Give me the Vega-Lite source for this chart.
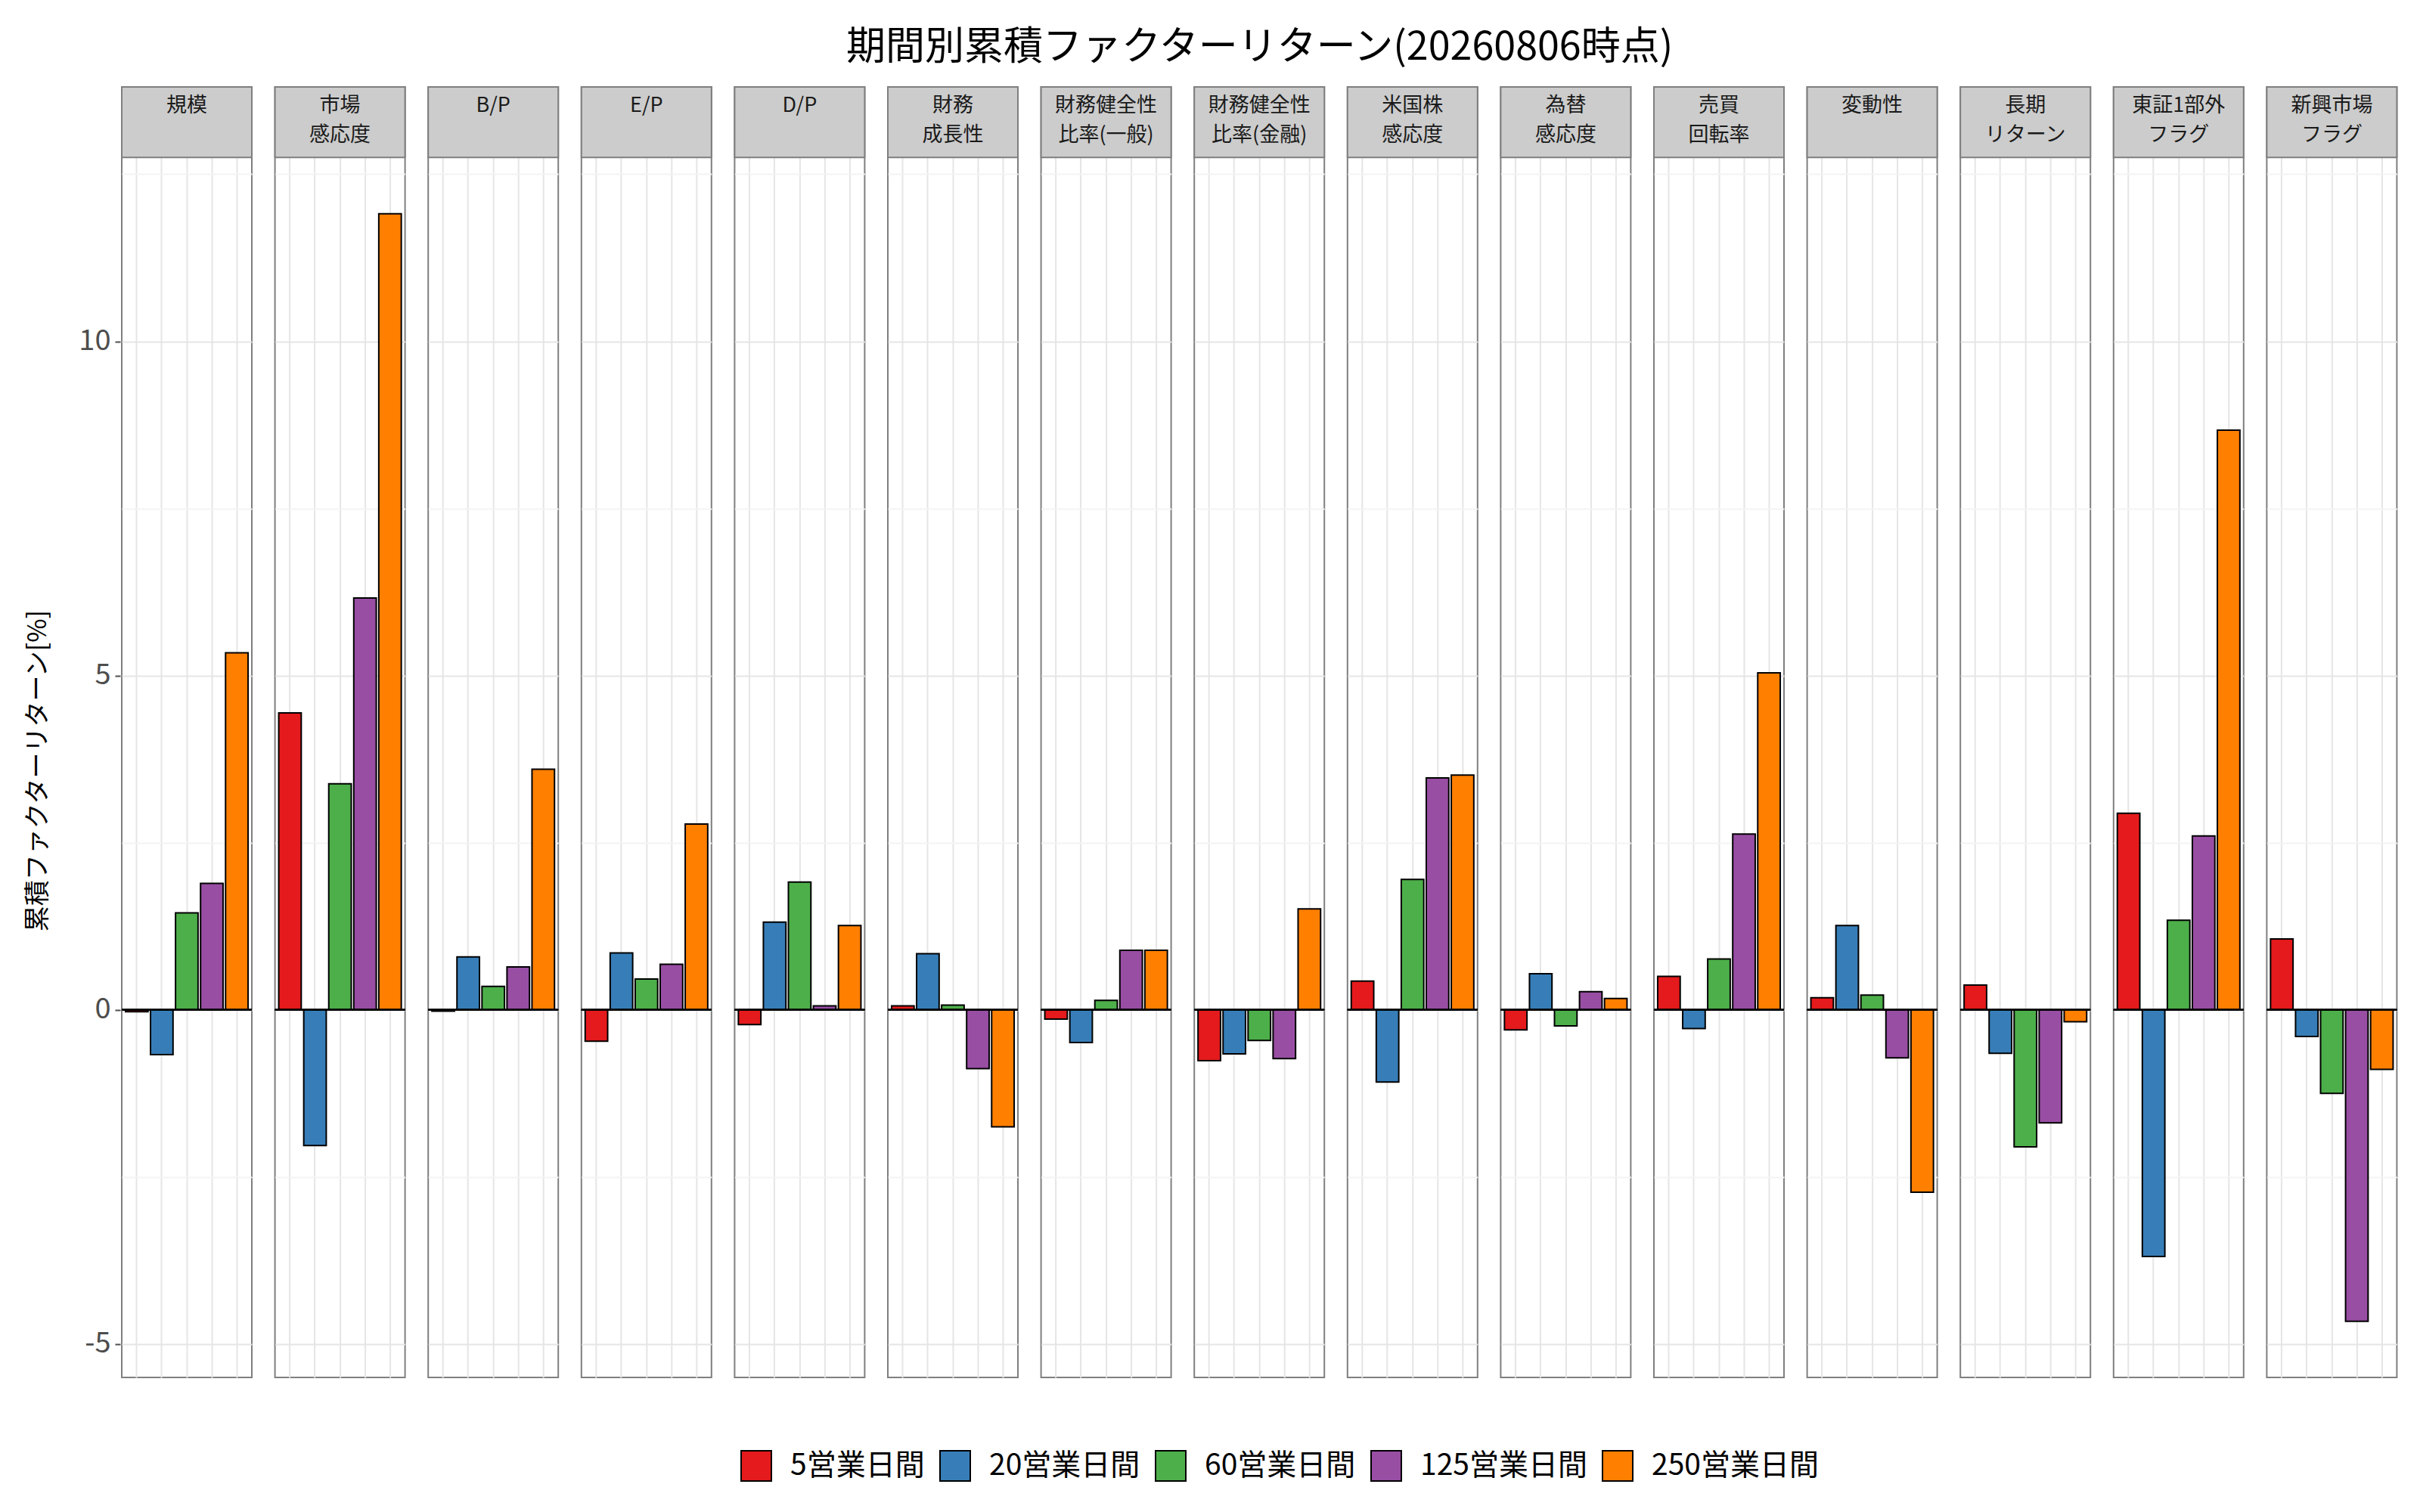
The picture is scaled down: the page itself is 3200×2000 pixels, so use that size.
{
  "$schema": "https://vega.github.io/schema/vega-lite/v6.json",
  "padding": {"left": 33, "top": 37, "right": 20, "bottom": 20},
  "title": {
    "text": "期間別累積ファクターリターン(20260806時点)",
    "fontSize": 52,
    "fontWeight": "normal",
    "color": "#000000",
    "anchor": "middle",
    "offset": 23,
    "dx": 63
  },
  "data": {
    "values": [
      {"f": "規模", "p": "5営業日間", "v": -0.03},
      {"f": "規模", "p": "20営業日間", "v": -0.67},
      {"f": "規模", "p": "60営業日間", "v": 1.45},
      {"f": "規模", "p": "125営業日間", "v": 1.89},
      {"f": "規模", "p": "250営業日間", "v": 5.34},
      {"f": "市場\n感応度", "p": "5営業日間", "v": 4.44},
      {"f": "市場\n感応度", "p": "20営業日間", "v": -2.03},
      {"f": "市場\n感応度", "p": "60営業日間", "v": 3.38},
      {"f": "市場\n感応度", "p": "125営業日間", "v": 6.16},
      {"f": "市場\n感応度", "p": "250営業日間", "v": 11.91},
      {"f": "B/P", "p": "5営業日間", "v": -0.02},
      {"f": "B/P", "p": "20営業日間", "v": 0.79},
      {"f": "B/P", "p": "60営業日間", "v": 0.35},
      {"f": "B/P", "p": "125営業日間", "v": 0.64},
      {"f": "B/P", "p": "250営業日間", "v": 3.6},
      {"f": "E/P", "p": "5営業日間", "v": -0.47},
      {"f": "E/P", "p": "20営業日間", "v": 0.85},
      {"f": "E/P", "p": "60営業日間", "v": 0.46},
      {"f": "E/P", "p": "125営業日間", "v": 0.68},
      {"f": "E/P", "p": "250営業日間", "v": 2.78},
      {"f": "D/P", "p": "5営業日間", "v": -0.22},
      {"f": "D/P", "p": "20営業日間", "v": 1.31},
      {"f": "D/P", "p": "60営業日間", "v": 1.91},
      {"f": "D/P", "p": "125営業日間", "v": 0.06},
      {"f": "D/P", "p": "250営業日間", "v": 1.26},
      {"f": "財務\n成長性", "p": "5営業日間", "v": 0.06},
      {"f": "財務\n成長性", "p": "20営業日間", "v": 0.84},
      {"f": "財務\n成長性", "p": "60営業日間", "v": 0.07},
      {"f": "財務\n成長性", "p": "125営業日間", "v": -0.88},
      {"f": "財務\n成長性", "p": "250営業日間", "v": -1.75},
      {"f": "財務健全性\n比率(一般)", "p": "5営業日間", "v": -0.14},
      {"f": "財務健全性\n比率(一般)", "p": "20営業日間", "v": -0.49},
      {"f": "財務健全性\n比率(一般)", "p": "60営業日間", "v": 0.14},
      {"f": "財務健全性\n比率(一般)", "p": "125営業日間", "v": 0.89},
      {"f": "財務健全性\n比率(一般)", "p": "250営業日間", "v": 0.89},
      {"f": "財務健全性\n比率(金融)", "p": "5営業日間", "v": -0.76},
      {"f": "財務健全性\n比率(金融)", "p": "20営業日間", "v": -0.66},
      {"f": "財務健全性\n比率(金融)", "p": "60営業日間", "v": -0.46},
      {"f": "財務健全性\n比率(金融)", "p": "125営業日間", "v": -0.73},
      {"f": "財務健全性\n比率(金融)", "p": "250営業日間", "v": 1.51},
      {"f": "米国株\n感応度", "p": "5営業日間", "v": 0.43},
      {"f": "米国株\n感応度", "p": "20営業日間", "v": -1.08},
      {"f": "米国株\n感応度", "p": "60営業日間", "v": 1.95},
      {"f": "米国株\n感応度", "p": "125営業日間", "v": 3.47},
      {"f": "米国株\n感応度", "p": "250営業日間", "v": 3.51},
      {"f": "為替\n感応度", "p": "5営業日間", "v": -0.3},
      {"f": "為替\n感応度", "p": "20営業日間", "v": 0.54},
      {"f": "為替\n感応度", "p": "60営業日間", "v": -0.24},
      {"f": "為替\n感応度", "p": "125営業日間", "v": 0.27},
      {"f": "為替\n感応度", "p": "250営業日間", "v": 0.17},
      {"f": "売買\n回転率", "p": "5営業日間", "v": 0.5},
      {"f": "売買\n回転率", "p": "20営業日間", "v": -0.28},
      {"f": "売買\n回転率", "p": "60営業日間", "v": 0.76},
      {"f": "売買\n回転率", "p": "125営業日間", "v": 2.63},
      {"f": "売買\n回転率", "p": "250営業日間", "v": 5.04},
      {"f": "変動性", "p": "5営業日間", "v": 0.18},
      {"f": "変動性", "p": "20営業日間", "v": 1.26},
      {"f": "変動性", "p": "60営業日間", "v": 0.22},
      {"f": "変動性", "p": "125営業日間", "v": -0.72},
      {"f": "変動性", "p": "250営業日間", "v": -2.73},
      {"f": "長期\nリターン", "p": "5営業日間", "v": 0.37},
      {"f": "長期\nリターン", "p": "20営業日間", "v": -0.65},
      {"f": "長期\nリターン", "p": "60営業日間", "v": -2.05},
      {"f": "長期\nリターン", "p": "125営業日間", "v": -1.69},
      {"f": "長期\nリターン", "p": "250営業日間", "v": -0.18},
      {"f": "東証1部外\nフラグ", "p": "5営業日間", "v": 2.94},
      {"f": "東証1部外\nフラグ", "p": "20営業日間", "v": -3.69},
      {"f": "東証1部外\nフラグ", "p": "60営業日間", "v": 1.34},
      {"f": "東証1部外\nフラグ", "p": "125営業日間", "v": 2.6},
      {"f": "東証1部外\nフラグ", "p": "250営業日間", "v": 8.67},
      {"f": "新興市場\nフラグ", "p": "5営業日間", "v": 1.06},
      {"f": "新興市場\nフラグ", "p": "20営業日間", "v": -0.4},
      {"f": "新興市場\nフラグ", "p": "60営業日間", "v": -1.25},
      {"f": "新興市場\nフラグ", "p": "125営業日間", "v": -4.66},
      {"f": "新興市場\nフラグ", "p": "250営業日間", "v": -0.89}
    ]
  },
  "facet": {
    "column": {
      "field": "f",
      "type": "nominal",
      "sort": ["規模", "市場\n感応度", "B/P", "E/P", "D/P", "財務\n成長性", "財務健全性\n比率(一般)", "財務健全性\n比率(金融)", "米国株\n感応度", "為替\n感応度", "売買\n回転率", "変動性", "長期\nリターン", "東証1部外\nフラグ", "新興市場\nフラグ"],
      "header": {"labels": false, "title": null, "labelPadding": 0, "titlePadding": 0}
    }
  },
  "spacing": 26.6,
  "spec": {
    "width": 172,
    "height": 1707,
    "layer": [
      {
        "mark": {"type": "bar", "stroke": "#000000", "strokeWidth": 2},
        "encoding": {
          "x": {
            "field": "p",
            "type": "nominal",
            "sort": ["5営業日間", "20営業日間", "60営業日間", "125営業日間", "250営業日間"],
            "scale": {"paddingInner": 0.1, "paddingOuter": 0.15},
            "axis": {"labels": false, "ticks": false, "domain": false, "title": null, "grid": true, "gridColor": "#E5E5E5", "gridWidth": 2, "bandPosition": 0.5}
          },
          "y": {
            "field": "v",
            "type": "quantitative",
            "title": "累積ファクターリターン[%]",
            "scale": {"domain": [-5.5, 13.806], "nice": false},
            "axis": {
              "values": [-5, -2.5, 0, 2.5, 5, 7.5, 10, 12.5],
              "labelExpr": "datum.value % 5 === 0 ? toString(datum.value) : ''",
              "labelFontSize": 38,
              "labelColor": "#4D4D4D",
              "labelPadding": 6,
              "tickSize": 7,
              "tickWidth": 2,
              "tickColor": {"condition": {"test": "datum.value % 5 === 0", "value": "#4D4D4D"}, "value": "transparent"},
              "gridColor": {"condition": {"test": "datum.value % 5 === 0", "value": "#E5E5E5"}, "value": "#F4F4F4"},
              "gridWidth": 2,
              "domain": false,
              "titleFontSize": 34,
              "titleFontWeight": "normal",
              "titleColor": "#000000",
              "titlePadding": 36,
              "titleY": 904
            }
          },
          "y2": {"datum": 0},
          "color": {
            "field": "p",
            "type": "nominal",
            "sort": ["5営業日間", "20営業日間", "60営業日間", "125営業日間", "250営業日間"],
            "scale": {
              "domain": ["5営業日間", "20営業日間", "60営業日間", "125営業日間", "250営業日間"],
              "range": ["#E41A1C", "#377EB8", "#4DAF4A", "#984EA3", "#FF7F00"]
            },
            "legend": {
              "title": null,
              "orient": "none",
              "direction": "horizontal",
              "legendX": 818,
              "legendY": 1803,
              "symbolType": "square",
              "symbolSize": 1600,
              "symbolStrokeColor": "#000000",
              "symbolStrokeWidth": 2,
              "symbolOpacity": 1,
              "labelFontSize": 39,
              "labelColor": "#000000",
              "labelLimit": 600,
              "labelOffset": 24,
              "columnPadding": 16,
              "padding": 0
            }
          }
        }
      },
      {
        "mark": {"type": "rule", "color": "#000000", "strokeWidth": 2},
        "encoding": {"y": {"datum": 0}}
      },
      {
        "transform": [{"filter": "datum.p === '5営業日間'"}],
        "mark": {"type": "rect", "fill": "#CCCCCC", "stroke": "#7F7F7F", "strokeWidth": 2},
        "encoding": {
          "y": {"datum": 12.75},
          "y2": {"datum": 13.806},
          "x": {"value": 0},
          "x2": {"value": 172}
        }
      },
      {
        "transform": [{"filter": "datum.p === '5営業日間'"}],
        "mark": {"type": "text", "lineBreak": "\n", "align": "center", "baseline": "top", "fontSize": 27, "lineHeight": 39, "color": "#1A1A1A", "dy": 12},
        "encoding": {
          "y": {"datum": 13.806},
          "x": {"value": 86},
          "text": {"field": "f"}
        }
      }
    ]
  },
  "config": {
    "font": "Noto Sans CJK JP",
    "view": {"stroke": "#7F7F7F", "strokeWidth": 2}
  }
}
